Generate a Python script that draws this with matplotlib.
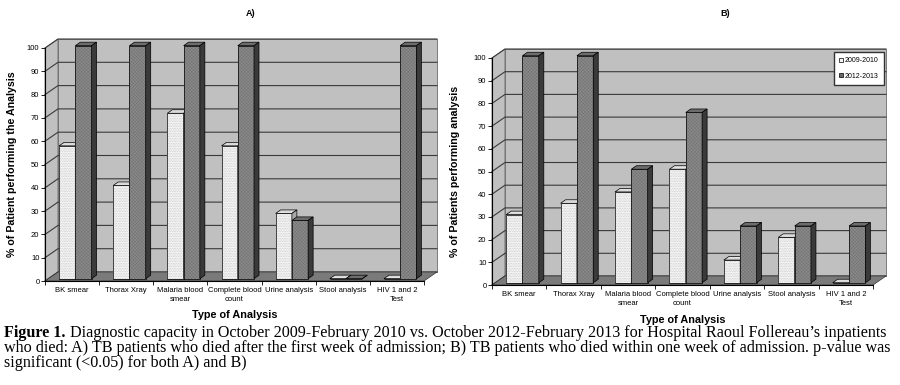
import numpy as np
import matplotlib.pyplot as plt
from matplotlib.patches import Polygon, Patch

categories = ['BK smear', 'Thorax Xray', 'Malaria blood\nsmear', 'Complete blood\ncount',
              'Urine analysis', 'Stool analysis', 'HIV 1 and 2\nTest']
series = ['2009-2010', '2012-2013']
a_2009 = [57, 40, 71, 57, 28, 0, 0]
a_2012 = [100, 100, 100, 100, 25, 0, 100]
b_2009 = [30, 35, 40, 50, 10, 20, 0]
b_2012 = [100, 100, 50, 75, 25, 25, 25]

W, H = 900, 385
plt.rcParams['font.family'] = ['Liberation Sans', 'DejaVu Sans']
plt.rcParams['hatch.linewidth'] = 0.25

fig = plt.figure(figsize=(9, 3.85), dpi=100)

WALL = '#c0c0c0'
FLOOR = '#7a7a7a'
GRID = '#3a3a3a'


def poly(ax, pts, fc, ec='none', lw=0.5, hatch=None, z=2):
    p = Polygon(pts, closed=True, facecolor=fc, edgecolor=ec, lw=lw, hatch=hatch,
                zorder=z, clip_on=False)
    ax.add_patch(p)


def shaded(ax, pts, fc, hc, hatch, z):
    poly(ax, pts, fc, z=z)
    if hatch:
        poly(ax, pts, 'none', ec=hc, lw=0, hatch=hatch, z=z)
    poly(ax, pts, 'none', ec='black', lw=0.5, z=z)


def bar3d(ax, x0, w, h, y0, bx, by, front, top, side, hc, hatch, z):
    # front face
    shaded(ax, [(x0, y0), (x0 + w, y0), (x0 + w, y0 + h), (x0, y0 + h)], front, hc, hatch, z)
    # top face
    shaded(ax, [(x0, y0 + h), (x0 + w, y0 + h), (x0 + w + bx, y0 + h + by), (x0 + bx, y0 + h + by)],
           top, hc, hatch, z)
    # right side face
    shaded(ax, [(x0 + w, y0), (x0 + w + bx, y0 + by), (x0 + w + bx, y0 + h + by), (x0 + w, y0 + h)],
           side, hc, None, z)


def panel(box, title, ylabel, v1, v2, xlab_y, ylab_x, title_xy, legend=False):
    left, top, right, bottom = box
    ax = fig.add_axes([left / W, 1 - bottom / H, (right - left) / W, (bottom - top) / H])
    n = len(categories)
    ax.set_xlim(0, n)
    ax.set_ylim(0, 100)
    pxx = (right - left) / n
    pxy = (bottom - top) / 100
    dx, dy = 13 / pxx, 9 / pxy
    bx, by = 5 / pxx, 3.5 / pxy

    # side wall, back wall, floor
    poly(ax, [(0, 0), (dx, dy), (dx, 100 + dy), (0, 100)], WALL, ec='#555555', z=0.5)
    poly(ax, [(dx, dy), (n + dx, dy), (n + dx, 100 + dy), (dx, 100 + dy)], WALL, ec='#555555', z=0.5)
    for g in range(0, 101, 10):
        ax.plot([0, dx, n + dx], [g, g + dy, g + dy], color=GRID, lw=0.8, zorder=0.8, clip_on=False)
    poly(ax, [(0, 0), (n, 0), (n + dx, dy), (dx, dy)], FLOOR, ec='#333333', z=1)

    for i in range(n):
        x = i + 0.26
        bar3d(ax, x, 0.30, v1[i], 1.0, bx, by, '#f2f2f2', '#e4e4e4', '#a8a8a8',
              '#b8b8b8', '..........', 3 + 2 * i)
        bar3d(ax, x + 0.30, 0.30, v2[i], 1.0, bx, by, '#8a8a8a', '#6e6e6e', '#3a3a3a',
              '#6a6a6a', 'xxxxxxxxxx', 4 + 2 * i)

    for s in ['top', 'right']:
        ax.spines[s].set_visible(False)
    for s in ['left', 'bottom']:
        ax.spines[s].set_linewidth(0.8)
        ax.spines[s].set_zorder(30)
    ax.set_facecolor('none')
    ax.set_yticks(range(0, 101, 10))
    ax.tick_params(axis='y', labelsize=5.5, length=3, width=0.6, pad=1)
    ax.set_xticks(range(0, n + 1))
    ax.set_xticklabels([])
    ax.tick_params(axis='x', which='major', length=3, width=0.6)
    ax.set_xticks(np.arange(n) + 0.5, minor=True)
    ax.set_xticklabels(categories, minor=True, fontsize=5.5, linespacing=1.5)
    ax.tick_params(axis='x', which='minor', length=0, pad=4)

    cx = (left + right) / 2
    fig.text(cx / W, 1 - xlab_y / H, 'Type of Analysis', ha='center', va='center',
             fontsize=7.8, fontweight='bold')
    fig.text(ylab_x / W, 1 - (top + bottom) / 2 / H, ylabel, rotation=90, ha='center',
             va='center', fontsize=7.7, fontweight='bold')
    fig.text(title_xy[0] / W, 1 - title_xy[1] / H, title, ha='center', va='center',
             fontsize=6.5, fontweight='bold')

    if legend:
        handles = [Patch(facecolor='#f4f4f4', edgecolor='black', lw=0.5, label=series[0]),
                   Patch(facecolor='#6a6a6a', edgecolor='black', lw=0.5, label=series[1])]
        fig.legend(handles=handles, loc='upper right', bbox_to_anchor=(887 / W, 1 - 49 / H),
                   fontsize=5, frameon=True, fancybox=False, edgecolor='#333333',
                   framealpha=1, handlelength=0.6, handleheight=0.6, handletextpad=0.3,
                   borderpad=0.7, labelspacing=1.2)
    return ax


panel((45, 48, 424, 281), 'A)', '% of Patient performing the Analysis',
      a_2009, a_2012, 315, 12, (251, 14))
panel((492, 58, 873, 285), 'B)', '% of Patients performing analysis',
      b_2009, b_2012, 320, 455, (725, 14), legend=True)

# caption
serif = dict(fontsize=11.6, va='center', family='Liberation Serif')
cap_x = 4 / W
bold = fig.text(cap_x, 1 - 333 / H, 'Figure 1.', fontweight='bold', **serif)
renderer = fig.canvas.get_renderer()
bb = bold.get_window_extent(renderer)
fig.text(bb.x1 / W + 4 / W, 1 - 333 / H,
         "Diagnostic capacity in October 2009-February 2010 vs. October 2012-February 2013 "
         "for Hospital Raoul Follereau\u2019s inpatients", **serif)
fig.text(cap_x, 1 - 348 / H,
         "who died: A) TB patients who died after the first week of admission; B) TB patients "
         "who died within one week of admission. p-value was", **serif)
fig.text(cap_x, 1 - 363 / H, "significant (<0.05) for both A) and B)", **serif)

fig.savefig('out.png', dpi=100)
